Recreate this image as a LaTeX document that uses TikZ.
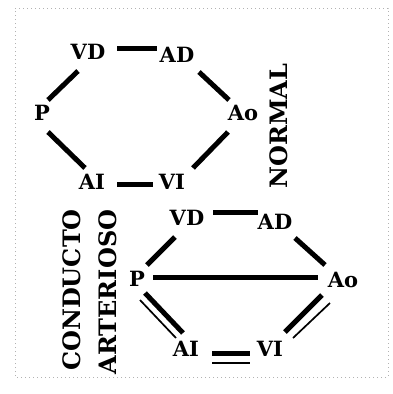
\documentclass[tikz,border=0pt]{standalone}
\usepackage{fontspec}
\setmainfont{DejaVu Serif}
\usetikzlibrary{calc}
\begin{document}
\begin{tikzpicture}[x=1pt,y=-1pt,
  lbl/.style={font=\bfseries\fontsize{21}{24}\selectfont, inner sep=0pt},
  vlbl/.style={font=\bfseries\fontsize{24}{27}\selectfont, inner sep=0pt, rotate=90},
  bar/.style={line width=5pt},
  thinbar/.style={line width=1.7pt},
  frame/.style={gray!60, line width=0.8pt, dash pattern=on 1pt off 3pt}]
\useasboundingbox (0,0) rectangle (393,394);
% scanned page frame
\draw[frame] (15,8) -- (388,8) -- (388,377) -- (15,377) -- cycle;

% ---- normal circulation ----
\node[lbl] (vd1) at (88,52) {VD};
\node[lbl] (ad1) at (177,55) {AD};
\node[lbl] (p1)  at (42,113) {P};
\node[lbl] (ao1) at (243,113) {Ao};
\node[lbl] (ai1) at (92,182) {AI};
\node[lbl] (vi1) at (172,182) {VI};
\node[vlbl] (normal) at (279,126) {NORMAL};

\draw[bar] ($(vd1)+(29,-4)$) -- ($(ad1)+(-20,-7)$);
\draw[bar] ($(vd1)+(-10,19)$) -- ($(p1)+(6,-13)$);
\draw[bar] ($(ad1)+(22,17)$) -- ($(ao1)+(-14,-13)$);
\draw[bar] ($(p1)+(6,19)$) -- ($(ai1)+(-7,-14)$);
\draw[bar] ($(ao1)+(-15,19)$) -- ($(vi1)+(21,-14)$);
\draw[bar] ($(ai1)+(25,2)$) -- ($(vi1)+(-19,2)$);

% ---- patent ductus arteriosus ----
\node[lbl] (vd2) at (187,218) {VD};
\node[lbl] (ad2) at (275,222) {AD};
\node[lbl] (p2)  at (137,279) {P};
\node[lbl] (ao2) at (343,280) {Ao};
\node[lbl] (ai2) at (186,349) {AI};
\node[lbl] (vi2) at (270,349) {VI};
\node[vlbl] (cond) at (72,290) {CONDUCTO};
\node[vlbl] (art)  at (108,292) {ARTERIOSO};

\draw[bar] ($(vd2)+(26,-6)$) -- ($(ad2)+(-17,-10)$);
\draw[bar] ($(vd2)+(-12,19)$) -- ($(p2)+(10,-14)$);
\draw[bar] ($(ad2)+(20,16)$) -- ($(ao2)+(-18,-15)$);
\draw[bar] ($(p2)+(16,-2)$) -- ($(ao2)+(-25,-3)$);
\draw[bar] ($(p2)+(8,14)$) -- ($(ai2)+(-3,-16)$);
\draw[thinbar] ($(p2)+(3,21)$) -- ($(ai2)+(-10,-11)$);
\draw[bar] ($(ao2)+(-21,15)$) -- ($(vi2)+(15,-17)$);
\draw[thinbar] ($(ao2)+(-13,23)$) -- ($(vi2)+(23,-11)$);
\draw[bar] ($(ai2)+(26,4)$) -- ($(vi2)+(-20,4)$);
\draw[thinbar] ($(ai2)+(26,14)$) -- ($(vi2)+(-20,14)$);
\end{tikzpicture}
\end{document}
